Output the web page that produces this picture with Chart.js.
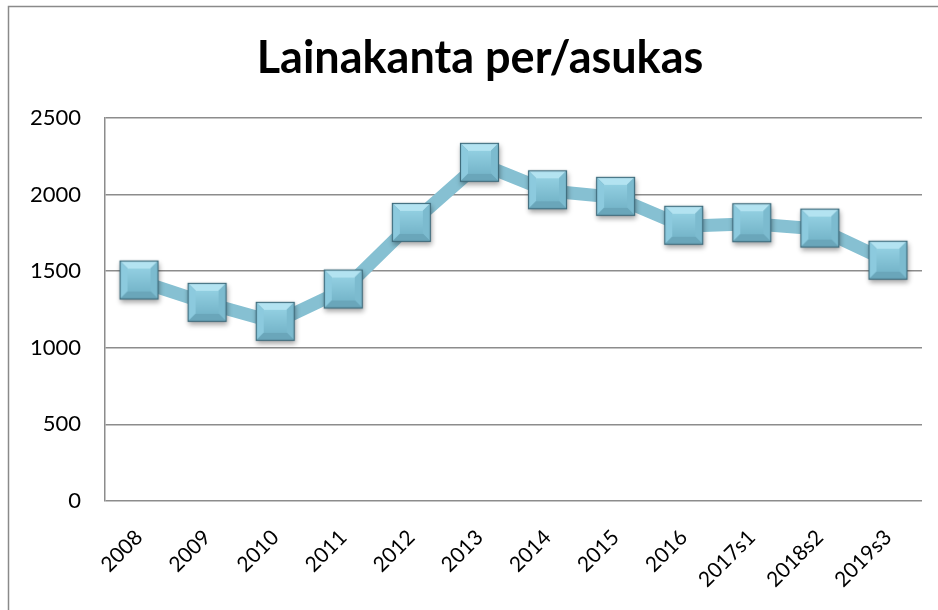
<!DOCTYPE html>
<html>
<head>
<meta charset="utf-8">
<script src="https://cdn.jsdelivr.net/npm/chart.js@4.4.1/dist/chart.umd.min.js"></script>
<style>
  html, body { margin: 0; padding: 0; background: #ffffff; }
  #wrap { width: 938px; height: 610px; position: relative; }
</style>
</head>
<body>
<div id="wrap"><canvas id="c" width="938" height="610"></canvas></div>
<script>
const categories = ['2008', '2009', '2010', '2011', '2012', '2013', '2014', '2015', '2016', '2017s1', '2018s2', '2019s3'];
const values = [1436, 1290, 1166, 1377, 1812, 2204, 2025, 1982, 1793, 1810, 1775, 1565];
const yTicks = [0, 500, 1000, 1500, 2000, 2500];
const titleText = 'Lainakanta per/asukas';

function makeMarker() {
  const s = 39, pad = 8;
  const cv = document.createElement('canvas');
  cv.width = s + pad * 2; cv.height = s + pad * 2;
  const g = cv.getContext('2d');
  const x0 = pad, y0 = pad - 1, b = 8;
  g.save();
  g.shadowColor = 'rgba(0,0,0,0.35)';
  g.shadowBlur = 5; g.shadowOffsetX = 1; g.shadowOffsetY = 3;
  g.fillStyle = '#5f9fb3';
  g.fillRect(x0, y0, s, s);
  g.restore();
  const face = (pts, col) => { g.beginPath(); g.moveTo(pts[0][0], pts[0][1]); for (let i = 1; i < pts.length; i++) g.lineTo(pts[i][0], pts[i][1]); g.closePath(); g.fillStyle = col; g.fill(); };
  const L = x0, T = y0, R = x0 + s, B = y0 + s;
  face([[L, T], [R, T], [R - b, T + b], [L + b, T + b]], '#b3e3f1');
  face([[L, T], [L + b, T + b], [L + b, B - b], [L, B]], '#8ccade');
  face([[R, T], [R, B], [R - b, B - b], [R - b, T + b]], '#7cbbcf');
  face([[L, B], [L + b, B - b], [R - b, B - b], [R, B]], '#6aa6ba');
  const gr = g.createLinearGradient(0, T + b, 0, B - b);
  gr.addColorStop(0, '#92cfe1');
  gr.addColorStop(1, '#76b6ca');
  g.fillStyle = gr;
  g.fillRect(L + b, T + b, s - 2 * b, s - 2 * b);
  g.strokeStyle = '#3f6c7c';
  g.lineWidth = 1.2;
  g.strokeRect(L + 0.5, T + 0.5, s - 1, s - 1);
  return cv;
}

const marker = makeMarker();

const frame = {
  id: 'frame',
  beforeDraw(chart) {
    const c = chart.ctx;
    c.save();
    c.fillStyle = '#ffffff';
    c.fillRect(0, 0, chart.width, chart.height);
    c.strokeStyle = '#8a8a8a';
    c.lineWidth = 1.5;
    c.strokeRect(8.5, 6.5, 1200, 1200);
    c.restore();
  }
};

new Chart(document.getElementById('c'), {
  type: 'line',
  data: {
    labels: categories,
    datasets: [{
      data: values,
      borderColor: '#86c0d2',
      borderWidth: 13,
      tension: 0,
      pointStyle: marker,
      pointRadius: 19,
      pointHoverRadius: 19,
      clip: false
    }]
  },
  options: {
    responsive: false,
    animation: false,
    devicePixelRatio: 1,
    layout: { autoPadding: false, padding: { left: 24, right: 2, top: 0, bottom: 0 } },
    plugins: {
      legend: { display: false },
      tooltip: { enabled: false },
      title: {
        display: true,
        text: titleText,
        color: '#000000',
        font: { family: 'Lato', size: 45, weight: 'bold' },
        padding: { top: 31, bottom: 33 }
      }
    },
    scales: {
      x: {
        offset: true,
        grid: { display: false, drawTicks: false },
        border: { display: false },
        ticks: {
          color: '#000000',
          font: { family: 'Lato', size: 21 },
          minRotation: 45, maxRotation: 45,
          padding: 24,
          autoSkip: false
        },
        afterFit(s) { s.height = 109; s.paddingRight = 16; s.paddingLeft = 0; }
      },
      y: {
        min: 0, max: 2500,
        afterBuildTicks(s) { s.ticks = yTicks.map(v => ({ value: v })); },
        grid: { color: '#8c8c8c', lineWidth: 1.5, drawTicks: false },
        border: { display: true, color: '#8c8c8c', width: 1.5 },
        ticks: {
          color: '#000000',
          font: { family: 'Lato', size: 22 },
          padding: 24,
          callback: (v) => String(v)
        },
        afterFit(s) { s.width = 81; s.paddingTop = 0; s.paddingBottom = 0; }
      }
    }
  },
  plugins: [frame]
});
</script>
</body>
</html>
